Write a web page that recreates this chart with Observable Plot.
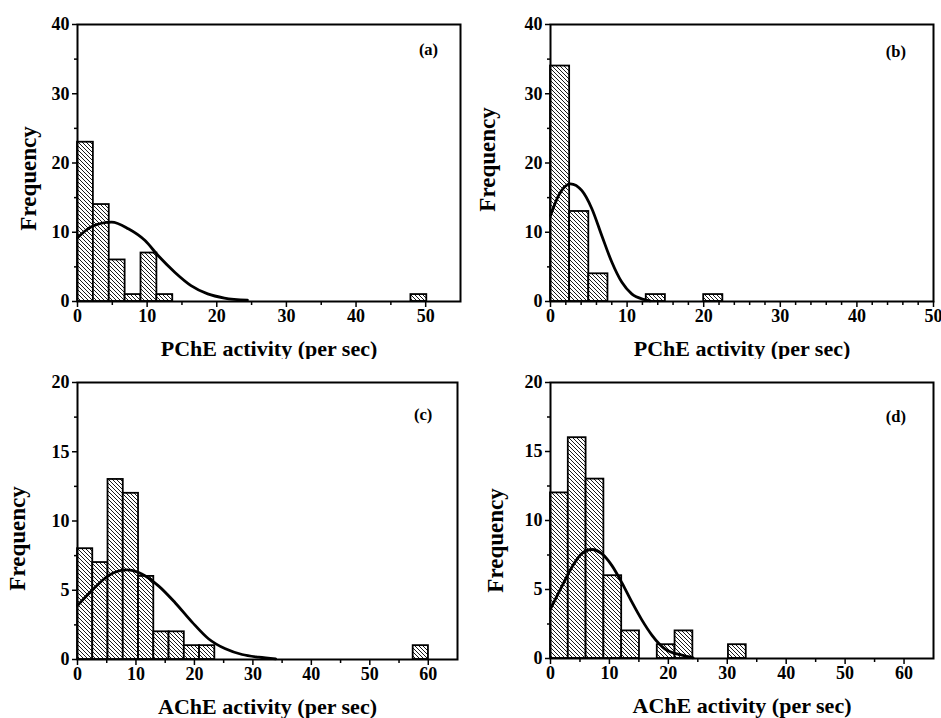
<!DOCTYPE html>
<html><head><meta charset="utf-8">
<script src="https://cdn.jsdelivr.net/npm/d3@7"></script>
<script src="https://cdn.jsdelivr.net/npm/@observablehq/plot@0.6"></script>
<style>
html,body{margin:0;padding:0;background:#fff;}
#root{position:relative;width:941px;height:718px;overflow:hidden;background:#fff;}
.panel{position:absolute;}
.panel svg{overflow:visible;}
</style></head><body><div id="root"></div>
<script>
// ---- data ----
const yLabel = "Frequency";
const xLabelPChE = "PChE activity (per sec)";
const xLabelAChE = "AChE activity (per sec)";
const tags = ["(a)", "(b)", "(c)", "(d)"];

// histogram counts (bins start at 0) and bin widths
const countsA = [23,14,6,1,7,1,0,0,0,0,0,0,0,0,0,0,0,0,0,0,0,1];
const binWidthA = 2.28;
const countsB = [34,13,4,0,0,1,0,0,1];
const binWidthB = 2.5;
const countsC = [8,7,13,12,6,2,2,1,1,0,0,0,0,0,0,0,0,0,0,0,0,0,1];
const binWidthC = 2.61;
const countsD = [12,16,13,6,2,0,1,2,0,0,1];
const binWidthD = 3.02;

// fitted curves, points
const curveAx = [0, 2, 4.9, 7.3, 9.7, 11.6, 14, 16.3, 18.7, 21.1, 24.4];
const curveAy = [9.2, 10.8, 11.45, 10.5, 8.8, 6.6, 4.2, 2.3, 1.1, 0.5, 0.2];
const curveBx = [0, 1.05, 2.6, 4.1, 5.4, 6.7, 8.0, 9.3, 10.6, 12.15, 13];
const curveBy = [12.4, 15.3, 17.0, 16.0, 13.4, 9.5, 5.7, 2.8, 1.1, 0.3, 0.1];
const curveCx = [0, 2.5, 5.3, 8.45, 11, 13.9, 16.7, 19.6, 22.4, 25.3, 28.15, 31, 33.9];
const curveCy = [3.9, 5.0, 6.06, 6.47, 6.18, 5.3, 4.1, 2.7, 1.5, 0.77, 0.36, 0.17, 0.05];
const curveDx = [0, 1.9, 3.6, 5.3, 7.0, 8.7, 10.4, 12.1, 13.8, 15.5, 17.2, 19.4, 22.3, 24.2];
const curveDy = [3.6, 5.2, 6.6, 7.6, 7.9, 7.6, 6.75, 5.5, 4.1, 2.8, 1.7, 0.7, 0.24, 0.05];

// tick values
const xMajorA = [0,10,20,30,40,50];
const xMinorA = [5,15,25,35,45];
const xMajorB = [0,10,20,30,40,50];
const xMinorB = [2,4,6,8,12,14,16,18,22,24,26,28,32,34,36,38,42,44,46,48];
const xMajorCD = [0,10,20,30,40,50,60];
const xMinorCD = [5,15,25,35,45,55];
const yMajorAB = [0,10,20,30,40];
const yMinorAB = [5,15,25,35];
const yMajorCD = [0,5,10,15,20];
const yMinorCD = [2.5,7.5,12.5,17.5];

// ---- drawing ----
const FONT = "'Liberation Serif', 'Times New Roman', serif";

function panel(cfg) {
  const bars = cfg.counts.map((c, i) => ({x1: i * cfg.binWidth, x2: (i + 1) * cfg.binWidth, y: c})).filter(d => d.y > 0);
  const curve = cfg.curveX.map((x, i) => ({x, y: cfg.curveY[i]}));
  const svg = Plot.plot({
    width: cfg.width, height: cfg.height,
    marginLeft: cfg.mL, marginRight: cfg.mR, marginTop: cfg.mT, marginBottom: cfg.mB,
    style: {fontFamily: FONT, fontWeight: "bold", background: "white", color: "black"},
    x: {domain: cfg.xDomain},
    y: {domain: cfg.yDomain},
    marks: [
      Plot.rectY(bars, {x1: "x1", x2: "x2", y: "y", fill: `url(#${cfg.id})`, stroke: "black", strokeWidth: 1.8}),
      Plot.line(curve, {x: "x", y: "y", stroke: "black", strokeWidth: 2.8, curve: "monotone-x"}),
      Plot.axisX(cfg.xMajor, {tickSize: 6, tickPadding: 2, fontSize: 18, label: null, strokeWidth: 1.5}),
      Plot.axisX(cfg.xMinor, {tickSize: 4, tickFormat: () => "", label: null, strokeWidth: 1.5}),
      Plot.axisY(cfg.yMajor, {tickSize: 5, tickPadding: 3, fontSize: 18, label: null, strokeWidth: 1.5}),
      Plot.axisY(cfg.yMinor, {tickSize: 3, tickFormat: () => "", label: null, strokeWidth: 1.5}),
      Plot.frame({stroke: "black", strokeWidth: 2}),
      Plot.text([cfg.tag], {text: d => d, frameAnchor: "top-right", dx: cfg.tagDx, dy: cfg.tagDy, fontSize: 16.5, lineAnchor: "middle", textAnchor: "middle"}),
      Plot.text([cfg.xLabel], {text: d => d, frameAnchor: "bottom", dy: cfg.xLabDy, fontSize: 22, lineAnchor: "middle", textAnchor: "middle"}),
      Plot.text([yLabel], {text: d => d, frameAnchor: "left", rotate: -90, dx: cfg.yLabDx, dy: cfg.yLabDy, fontSize: 23, lineAnchor: "middle", textAnchor: "middle"})
    ]
  });
  const defs = d3.select(svg).insert("defs", ":first-child");
  const pat = defs.append("pattern").attr("id", cfg.id).attr("patternUnits", "userSpaceOnUse").attr("width", 4).attr("height", 4);
  pat.append("rect").attr("width", 4).attr("height", 4).attr("fill", "white");
  pat.append("path").attr("d", "M-1,-1 L5,5 M-1,3 L1,5 M3,-1 L5,1").attr("stroke", "black").attr("stroke-width", 0.9);
  const div = document.createElement("div");
  div.className = "panel";
  div.style.left = cfg.left + "px";
  div.style.top = cfg.top + "px";
  div.style.width = cfg.width + "px";
  div.style.height = cfg.height + "px";
  div.appendChild(svg);
  document.getElementById("root").appendChild(div);
}

panel({id: "hatchA", counts: countsA, binWidth: binWidthA, curveX: curveAx, curveY: curveAy,
  xDomain: [0, 55], yDomain: [0, 40], xMajor: xMajorA, xMinor: xMinorA, yMajor: yMajorAB, yMinor: yMinorAB,
  tag: tags[0], xLabel: xLabelPChE, left: 0, top: 0, width: 470, height: 359, mL: 77, mR: 10, mT: 24, mB: 58,
  yLabDx: -49, yLabDy: 15.5, xLabDy: 47.5, tagDx: -32, tagDy: 25});
panel({id: "hatchB", counts: countsB, binWidth: binWidthB, curveX: curveBx, curveY: curveBy,
  xDomain: [0, 50], yDomain: [0, 40], xMajor: xMajorB, xMinor: xMinorB, yMajor: yMajorAB, yMinor: yMinorAB,
  tag: tags[1], xLabel: xLabelPChE, left: 470, top: 0, width: 471, height: 359, mL: 80, mR: 8, mT: 24, mB: 58,
  yLabDx: -63, yLabDy: -3.5, xLabDy: 47.5, tagDx: -37.7, tagDy: 27});
panel({id: "hatchC", counts: countsC, binWidth: binWidthC, curveX: curveCx, curveY: curveCy,
  xDomain: [0, 65], yDomain: [0, 20], xMajor: xMajorCD, xMinor: xMinorCD, yMajor: yMajorCD, yMinor: yMinorCD,
  tag: tags[2], xLabel: xLabelAChE, left: 0, top: 359, width: 470, height: 359, mL: 77, mR: 13, mT: 23, mB: 59,
  yLabDx: -60, yLabDy: 17.5, xLabDy: 47, tagDx: -34.3, tagDy: 32.3});
panel({id: "hatchD", counts: countsD, binWidth: binWidthD, curveX: curveDx, curveY: curveDy,
  xDomain: [0, 65], yDomain: [0, 20], xMajor: xMajorCD, xMinor: xMinorCD, yMajor: yMajorCD, yMinor: yMinorCD,
  tag: tags[3], xLabel: xLabelAChE, left: 470, top: 359, width: 471, height: 359, mL: 80, mR: 8, mT: 23, mB: 60,
  yLabDx: -55, yLabDy: 20, xLabDy: 47.7, tagDx: -37.7, tagDy: 34.3});
</script></body></html>
